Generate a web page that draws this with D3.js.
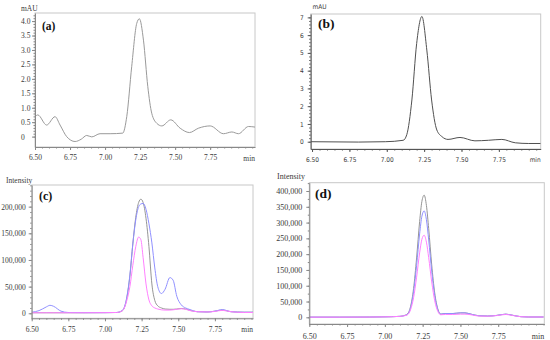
<!DOCTYPE html>
<html>
<head>
<meta charset="utf-8">
<script src="https://cdn.jsdelivr.net/npm/d3@7"></script>
<style>
  body { margin: 0; background: #fff; }
  svg { display: block; }
</style>
</head>
<body>
<svg id="chart" width="550" height="340"></svg>
<script>
// ---- data ----
var aTimes  = [6.50, 6.52, 6.583, 6.643, 6.679, 6.726, 6.786, 6.83, 6.869, 6.905, 6.964, 7.036, 7.126, 7.155, 7.19, 7.226, 7.245, 7.274, 7.305, 7.333, 7.369, 7.405, 7.469, 7.536, 7.602, 7.666, 7.75, 7.845, 7.905, 7.952, 8.024, 8.07];
var aValues = [0.69, 0.75, 0.40, 0.69, 0.40, 0.00, -0.17, -0.09, 0.04, -0.01, 0.10, 0.10, 0.12, 0.70, 2.42, 3.92, 4.08, 3.34, 1.73, 0.81, 0.46, 0.37, 0.58, 0.29, 0.14, 0.29, 0.37, 0.10, 0.16, 0.10, 0.35, 0.33];

var bTimes  = [6.49, 6.81, 6.99, 7.11, 7.134, 7.168, 7.20, 7.235, 7.268, 7.30, 7.335, 7.37, 7.41, 7.49, 7.59, 7.68, 7.77, 7.86, 7.95, 8.03];
var bValues = [0.00, -0.02, 0.00, 0.08, 0.40, 2.35, 5.53, 7.05, 5.16, 2.35, 0.66, 0.28, 0.13, 0.24, 0.05, 0.08, 0.13, -0.06, -0.10, -0.10];

var cTimes = [6.50, 6.55, 6.60, 6.625, 6.65, 6.70, 6.75, 6.85, 7.00, 7.08, 7.12, 7.15, 7.17, 7.19, 7.21, 7.23, 7.245, 7.26, 7.28, 7.30, 7.32, 7.34, 7.36, 7.385, 7.41, 7.443, 7.465, 7.49, 7.52, 7.55, 7.58, 7.63, 7.70, 7.75, 7.80, 7.86, 7.95, 8.01];
var cGray  = [1000, 1000, 1000, 1000, 1000, 1000, 1000, 1000, 1200, 1500, 5000, 30000, 70000, 130000, 180000, 208000, 214000, 208000, 178000, 125000, 55000, 24000, 14000, 10000, 8000, 7500, 7500, 8000, 9000, 8000, 5500, 3000, 2500, 4000, 6000, 3000, 2000, 2000];
var cBlue  = [2000, 5000, 12000, 15000, 13000, 4000, 1500, 1200, 1200, 1500, 6000, 32000, 72000, 130000, 175000, 200000, 205000, 206000, 195000, 168000, 132000, 85000, 50000, 37000, 45000, 67000, 62000, 32000, 16000, 10000, 7000, 3000, 2500, 4000, 7000, 3000, 2000, 2000];
var cPink  = [1000, 1000, 1000, 1000, 1000, 1000, 1000, 1000, 1200, 1500, 5000, 25000, 50000, 90000, 125000, 143000, 138000, 105000, 55000, 25000, 14000, 10000, 8000, 6500, 6000, 6000, 6500, 7500, 8500, 7500, 5000, 3000, 2500, 3500, 5500, 3000, 1500, 1500];

var dTimes = [6.50, 6.70, 6.90, 7.00, 7.05, 7.10, 7.13, 7.15, 7.17, 7.19, 7.21, 7.23, 7.245, 7.26, 7.275, 7.29, 7.31, 7.33, 7.35, 7.37, 7.40, 7.45, 7.50, 7.53, 7.57, 7.62, 7.68, 7.74, 7.80, 7.85, 7.90, 7.95, 8.05];
var dGray  = [500, 500, 800, 1500, 2000, 3000, 6000, 11000, 34000, 91000, 188000, 303000, 367000, 387000, 354000, 281000, 166000, 77000, 27000, 10000, 12000, 12000, 14000, 14000, 10000, 5000, 4000, 6000, 10000, 6000, 2000, 1000, 1000];
var dBlue  = [500, 500, 800, 1500, 2000, 3000, 5500, 9500, 30000, 80000, 164000, 264000, 320000, 337000, 309000, 245000, 146000, 68000, 25000, 10000, 12000, 12000, 14000, 14000, 10000, 5000, 4000, 6000, 10000, 6000, 2000, 1000, 1000];
var dPink  = [500, 500, 800, 1500, 2000, 3000, 5000, 8000, 24000, 62000, 127000, 204000, 247000, 260000, 238000, 189000, 112000, 52000, 19000, 8000, 9000, 9000, 10000, 10000, 8000, 4000, 3500, 5500, 9000, 5500, 2000, 1000, 1000];

var xTickValues = [6.50, 6.75, 7.00, 7.25, 7.50, 7.75];
var aYTicks = [0, 0.5, 1.0, 1.5, 2.0, 2.5, 3.0, 3.5, 4.0];
var bYTicks = [0, 1, 2, 3, 4, 5, 6, 7];
var cYTicks = [0, 50000, 100000, 150000, 200000];
var dYTicks = [0, 50000, 100000, 150000, 200000, 250000, 300000, 350000, 400000];

var svg = d3.select("#chart");

function drawPanel(p) {
  var g = svg.append("g");
  var x = d3.scaleLinear().domain(p.xDomain).range([p.left, p.right]);
  var y = d3.scaleLinear().domain(p.yDomain).range([p.bottom, p.top]);

  // light frame
  g.append("rect")
    .attr("x", p.left).attr("y", p.top)
    .attr("width", p.right - p.left).attr("height", p.bottom - p.top)
    .attr("fill", "none").attr("stroke", "#c8c8c8").attr("stroke-width", 1);

  var clipId = "clip" + p.name;
  svg.append("clipPath").attr("id", clipId).append("rect")
    .attr("x", p.left).attr("y", p.top)
    .attr("width", p.right - p.left).attr("height", p.bottom - p.top);

  var line = d3.line()
    .x(function(d) { return x(d[0]); })
    .y(function(d) { return y(d[1]); })
    .curve(d3.curveMonotoneX);

  p.series.forEach(function(s) {
    var pts = p.times.map(function(t, i) { return [t, s.values[i]]; });
    g.append("path")
      .datum(pts)
      .attr("clip-path", "url(#" + clipId + ")")
      .attr("fill", "none")
      .attr("stroke", s.color)
      .attr("stroke-width", 1)
      .attr("d", line);
  });

  // x axis
  var minorX = d3.range(6.5, p.xDomain[1] + 0.001, 0.05);
  g.append("g")
    .attr("transform", "translate(0," + p.bottom + ")")
    .call(d3.axisBottom(x).tickValues(minorX).tickSize(1.5).tickFormat(""))
    .call(function(a) { a.select(".domain").remove(); a.selectAll("line").attr("stroke", p.axisColor); });

  var xAxis = g.append("g")
    .attr("transform", "translate(0," + p.bottom + ")")
    .call(d3.axisBottom(x).tickValues(xTickValues).tickSize(3).tickSizeOuter(0).tickPadding(p.xPad).tickFormat(d3.format(".2f")));
  xAxis.select(".domain").attr("stroke", p.axisColor);
  xAxis.selectAll("line").attr("stroke", p.axisColor);
  xAxis.selectAll("text").attr("fill", "#3a3a3a").style("font-family", p.font).style("font-size", p.tickSize + "px");

  g.append("text")
    .attr("x", p.right).attr("y", p.bottom + p.xPad + 3 + p.tickSize * 0.8)
    .attr("text-anchor", "end")
    .attr("fill", "#3a3a3a")
    .style("font-family", p.font).style("font-size", p.tickSize + "px")
    .text("min");

  // y axis
  var minorY = d3.range(p.yTicks[0], p.yDomain[1], p.yMinor);
  g.append("g")
    .attr("transform", "translate(" + p.left + ",0)")
    .call(d3.axisLeft(y).tickValues(minorY).tickSize(1.5).tickFormat(""))
    .call(function(a) { a.select(".domain").remove(); a.selectAll("line").attr("stroke", p.axisColor); });

  var yAxis = g.append("g")
    .attr("transform", "translate(" + p.left + ",0)")
    .call(d3.axisLeft(y).tickValues(p.yTicks).tickSize(3).tickSizeOuter(0).tickPadding(p.yPad).tickFormat(p.yFormat));
  yAxis.select(".domain").attr("stroke", p.axisColor);
  yAxis.selectAll("line").attr("stroke", p.axisColor);
  yAxis.selectAll("text").attr("fill", "#3a3a3a").style("font-family", p.font).style("font-size", p.tickSize + "px");
  if (p.yLabelsLeft) {
    yAxis.selectAll("text").attr("text-anchor", "start").attr("x", p.yLabelsLeft - p.left);
  }

  g.append("text")
    .attr("x", p.titleX).attr("y", p.titleY)
    .attr("fill", "#3a3a3a")
    .style("font-family", p.font).style("font-size", p.tickSize + "px")
    .text(p.yTitle);

  g.append("text")
    .attr("x", p.tagX).attr("y", p.tagY)
    .attr("fill", "#111")
    .style("font-family", "'Liberation Serif', serif")
    .style("font-weight", "bold")
    .style("font-size", p.tagSize + "px")
    .text(p.tag);
}

var serif = "'Liberation Serif', 'Times New Roman', serif";

drawPanel({
  name: "a", left: 35, right: 255, top: 13, bottom: 147,
  xDomain: [6.5, 8.07], yDomain: [-0.36, 4.28],
  times: aTimes, series: [{ values: aValues, color: "#9a9a9a" }],
  yTicks: aYTicks, yMinor: 0.1, yFormat: function(d) { return d === 0 ? "0" : d3.format(".1f")(d); },
  yLabelsLeft: 21, yPad: 4, xPad: 5,
  font: serif, tickSize: 7.5, axisColor: "#888",
  yTitle: "mAU", titleX: 21, titleY: 10.5,
  tag: "(a)", tagX: 42, tagY: 30, tagSize: 11.5
});

drawPanel({
  name: "b", left: 310.7, right: 540.7, top: 14, bottom: 149,
  xDomain: [6.491, 8.03], yDomain: [-0.41, 7.19],
  times: bTimes, series: [{ values: bValues, color: "#505050" }],
  yTicks: bYTicks, yMinor: 0.2, yFormat: d3.format("d"),
  yPad: 4, xPad: 5,
  font: "'DejaVu Sans Condensed', 'DejaVu Sans', sans-serif", tickSize: 6.5, axisColor: "#555",
  yTitle: "mAU", titleX: 312.5, titleY: 8.5,
  tag: "(b)", tagX: 318, tagY: 28, tagSize: 13.5
});

drawPanel({
  name: "c", left: 31.7, right: 253, top: 185, bottom: 318.3,
  xDomain: [6.5, 8.01], yDomain: [-9400, 240600],
  times: cTimes,
  series: [
    { values: cGray, color: "#959595" },
    { values: cBlue, color: "#9090ff" },
    { values: cPink, color: "#ff80ff" }
  ],
  yTicks: cYTicks, yMinor: 10000, yFormat: d3.format(","),
  yPad: 3, xPad: 5,
  font: serif, tickSize: 7.5, axisColor: "#888",
  yTitle: "Intensity", titleX: 6, titleY: 182.5,
  tag: "(c)", tagX: 39, tagY: 200, tagSize: 12
});

drawPanel({
  name: "d", left: 309.3, right: 544.3, top: 182.7, bottom: 324,
  xDomain: [6.5, 8.055], yDomain: [-21200, 426300],
  times: dTimes,
  series: [
    { values: dGray, color: "#959595" },
    { values: dBlue, color: "#9090ff" },
    { values: dPink, color: "#ff80ff" }
  ],
  yTicks: dYTicks, yMinor: 25000, yFormat: d3.format(","),
  yPad: 4, xPad: 6,
  font: serif, tickSize: 8, axisColor: "#888",
  yTitle: "Intensity", titleX: 277, titleY: 178.5,
  tag: "(d)", tagX: 315, tagY: 198, tagSize: 13.5
});
</script>
</body>
</html>
